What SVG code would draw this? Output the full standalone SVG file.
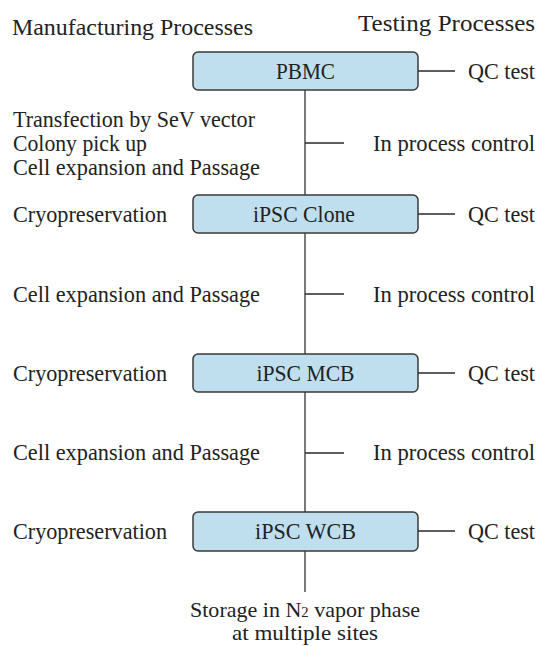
<svg xmlns="http://www.w3.org/2000/svg" width="538" height="646" viewBox="0 0 538 646">
  <style>
    text { font-family: "Liberation Serif", "Times New Roman", serif; font-size: 23px; fill: #222; }
    .node rect { fill: #bfdfee; stroke: #3a3a3a; stroke-width: 1.5; }
    .node text { text-anchor: middle; }
    .trunk { stroke: #7a7a7a; stroke-width: 2; fill: none; }
    .branch { stroke: #2a2a2a; stroke-width: 1.5; fill: none; }
    #storage text { font-size: 21px; }
  </style>
  <rect width="538" height="646" fill="#ffffff"/>

  <!-- column headings -->
  <text x="12" y="35" textLength="241" lengthAdjust="spacingAndGlyphs">Manufacturing Processes</text>
  <text x="358" y="31" textLength="177" lengthAdjust="spacingAndGlyphs">Testing Processes</text>

  <!-- connectors -->
  <g id="connectors">
    <path class="trunk" d="M305 90 V512 M305 551 V592"/>
    <path class="branch" d="M305 143 H344 M305 294 H344 M305 453 H344"/>
    <path class="branch" d="M418 71 H455 M418 214 H455 M418 373 H455 M418 531 H455"/>
  </g>

  <!-- nodes -->
  <g id="pbmc" class="node">
    <rect x="193" y="52" width="225" height="38" rx="5"/>
    <text x="305.5" y="79" textLength="59" lengthAdjust="spacingAndGlyphs">PBMC</text>
  </g>
  <g id="ipsc-clone" class="node">
    <rect x="193" y="195" width="225" height="38" rx="5"/>
    <text x="304" y="222" textLength="102" lengthAdjust="spacingAndGlyphs">iPSC Clone</text>
  </g>
  <g id="ipsc-mcb" class="node">
    <rect x="193" y="354" width="225" height="38" rx="5"/>
    <text x="305.5" y="381" textLength="98" lengthAdjust="spacingAndGlyphs">iPSC MCB</text>
  </g>
  <g id="ipsc-wcb" class="node">
    <rect x="193" y="512" width="225" height="39" rx="5"/>
    <text x="305.5" y="539" textLength="101" lengthAdjust="spacingAndGlyphs">iPSC WCB</text>
  </g>

  <!-- manufacturing steps -->
  <g id="manufacturing">
    <text x="13" y="127" textLength="242" lengthAdjust="spacingAndGlyphs">Transfection by SeV vector</text>
    <text x="13" y="151" textLength="134" lengthAdjust="spacingAndGlyphs">Colony pick up</text>
    <text x="13" y="175" textLength="247" lengthAdjust="spacingAndGlyphs">Cell expansion and Passage</text>
    <text x="13" y="222" textLength="154" lengthAdjust="spacingAndGlyphs">Cryopreservation</text>
    <text x="13" y="302" textLength="247" lengthAdjust="spacingAndGlyphs">Cell expansion and Passage</text>
    <text x="13" y="381" textLength="154" lengthAdjust="spacingAndGlyphs">Cryopreservation</text>
    <text x="13" y="460" textLength="247" lengthAdjust="spacingAndGlyphs">Cell expansion and Passage</text>
    <text x="13" y="539" textLength="154" lengthAdjust="spacingAndGlyphs">Cryopreservation</text>
  </g>

  <!-- testing steps -->
  <g id="testing">
    <text x="468" y="79" textLength="67" lengthAdjust="spacingAndGlyphs">QC test</text>
    <text x="373" y="151" textLength="162" lengthAdjust="spacingAndGlyphs">In process control</text>
    <text x="468" y="222" textLength="67" lengthAdjust="spacingAndGlyphs">QC test</text>
    <text x="373" y="302" textLength="162" lengthAdjust="spacingAndGlyphs">In process control</text>
    <text x="468" y="381" textLength="67" lengthAdjust="spacingAndGlyphs">QC test</text>
    <text x="373" y="460" textLength="162" lengthAdjust="spacingAndGlyphs">In process control</text>
    <text x="468" y="539" textLength="67" lengthAdjust="spacingAndGlyphs">QC test</text>
  </g>

  <!-- final storage -->
  <g id="storage">
    <text x="190" y="617" textLength="230" lengthAdjust="spacingAndGlyphs">Storage in N<tspan font-size="14">2</tspan> vapor phase</text>
    <text x="232" y="640" textLength="146" lengthAdjust="spacingAndGlyphs">at multiple sites</text>
  </g>
</svg>
